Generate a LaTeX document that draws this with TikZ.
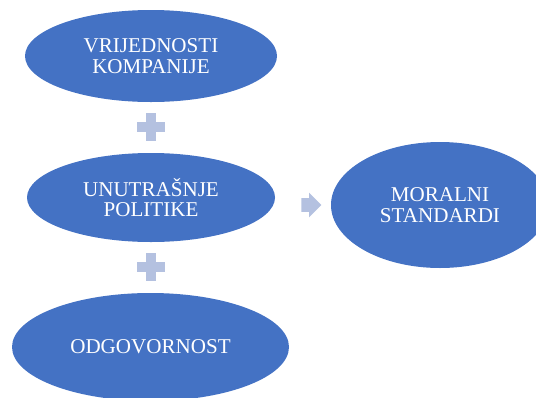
\documentclass[tikz,border=0pt]{standalone}
\usepackage{fontspec}
\setmainfont{Liberation Serif}
\usetikzlibrary{shapes.geometric,shapes.arrows}

\definecolor{bubble}{HTML}{4472C4}
\definecolor{joiner}{HTML}{B4C1E0}

\tikzset{
	bubble/.style={ellipse, fill=bubble, inner sep=0pt, text=white, align=center,
		font=\fontsize{15.8}{15.5}\selectfont},
	plus/.style={minimum size=21pt, inner sep=0pt, path picture={
		\fill[joiner] ([xshift=-3.75pt]path picture bounding box.north) rectangle ([xshift=3.75pt]path picture bounding box.south);
		\fill[joiner] ([yshift=-3.75pt]path picture bounding box.west) rectangle ([yshift=3.75pt]path picture bounding box.east);}},
	joinarrow/.style={single arrow, fill=joiner, inner xsep=0pt, inner ysep=4.875pt,
		minimum height=15pt, single arrow head extend=4.125pt, font=\fontsize{1}{1}\selectfont}
}

\begin{document}
\begin{tikzpicture}[x=0.75pt,y=-0.75pt]
			%%%	Frame
			\useasboundingbox (0,0) rectangle (536,397);
			%%%	Bubbles
			\node[bubble, minimum width=189pt, minimum height=69pt] (vrijednosti) at (151,56) {VRIJEDNOSTI\\KOMPANIJE};
			\node[bubble, minimum width=186pt, minimum height=66.75pt] (politike) at (151,197.5) {UNUTRAŠNJE\\POLITIKE};
			\node[bubble, minimum width=207.75pt, minimum height=81pt] (odgovornost) at (150.5,347) {ODGOVORNOST};
			\node[bubble, minimum width=163.5pt, minimum height=94.5pt] (standardi) at (440,205) {MORALNI\\STANDARDI};
			%%%	Joiners
			\node[plus] (plusA) at (151,127) {};
			\node[plus] (plusB) at (151,267) {};
			\node[joinarrow] (arrow) at (308,205) {};
		\end{tikzpicture}
\end{document}
